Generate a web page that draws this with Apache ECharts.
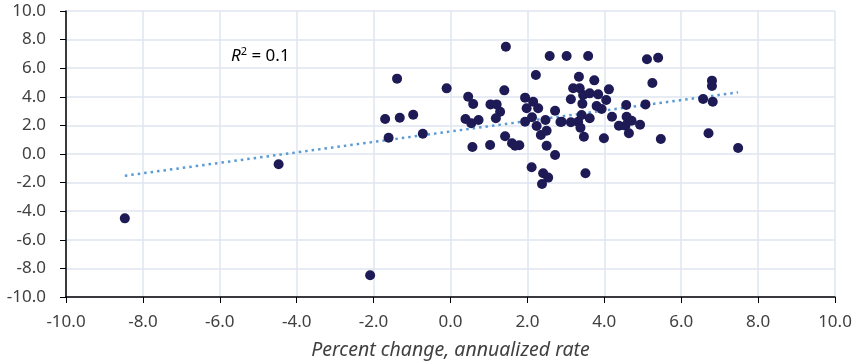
<!DOCTYPE html>
<html>
<head>
<meta charset="utf-8">
<script src="https://cdn.jsdelivr.net/npm/echarts@6/dist/echarts.min.js"></script>
<style>
  html, body { margin: 0; padding: 0; background: #fff; }
  #chart { width: 858px; height: 363px; }
</style>
</head>
<body>
<div id="chart"></div>
<script>
// scatter points
const xVals = [
  -8.47, -4.47, -2.09, -1.39, -1.70, -1.32, -0.97, -1.61, -0.72, -0.10,
  1.44, 0.46, 0.59, 1.40, 1.04, 1.20, 1.29, 1.18, 0.39, 0.54,
  0.73, 0.57, 1.03, 1.42, 1.60, 1.79, 1.68, 2.22, 2.58, 3.02,
  3.58, 1.94, 2.15, 2.28, 1.98, 1.94, 2.12, 2.24, 2.47, 2.35,
  2.50, 2.50, 2.72, 2.72, 2.86, 3.13, 3.19, 3.34, 3.13, 2.11,
  2.41, 2.54, 2.38, 5.11, 5.40, 5.25, 6.80, 6.80, 6.57, 6.82,
  6.71, 7.48, 5.47, 5.07, 4.57, 3.74, 4.12, 3.36, 3.45, 3.62,
  3.84, 3.43, 4.05, 3.80, 3.93, 4.20, 4.58, 4.71, 4.38, 4.55,
  4.93, 4.64, 3.99, 3.47, 3.51, 3.32, 3.38, 3.62, 3.41, 2.89
];
const yVals = [
  -4.50, -0.72, -8.48, 5.27, 2.45, 2.54, 2.75, 1.14, 1.42, 4.59,
  7.50, 4.00, 3.50, 4.45, 3.47, 3.47, 2.96, 2.50, 2.45, 2.15,
  2.38, 0.49, 0.63, 1.24, 0.75, 0.61, 0.58, 5.52, 6.85, 6.85,
  6.85, 3.94, 3.66, 3.20, 3.20, 2.26, 2.57, 1.96, 2.38, 1.33,
  1.63, 0.58, 3.03, -0.07, 2.24, 3.83, 4.60, 5.40, 2.22, -0.93,
  -1.35, -1.65, -2.10, 6.62, 6.73, 4.97, 5.13, 4.76, 3.85, 3.66,
  1.45, 0.42, 1.05, 3.47, 3.43, 5.15, 4.52, 4.60, 4.13, 4.24,
  4.17, 3.52, 3.78, 3.36, 3.15, 2.61, 2.61, 2.33, 1.98, 1.98,
  2.05, 1.45, 1.10, 1.21, -1.35, 2.26, 1.84, 2.50, 2.73, 2.26
];

// linear trendline end points as drawn
const trendX = [-8.47, 7.48];
const trendY = [-1.52, 4.31];

const rSquared = '0.1';
const xAxisTitle = 'Percent change, annualized rate';

const points = xVals.map((x, i) => [x, yVals[i]]);
const trend = trendX.map((x, i) => [x, trendY[i]]);

const chart = echarts.init(document.getElementById('chart'));

const textColor = '#404040';
const labelStyle = {
  color: textColor,
  fontSize: 17,
  fontFamily: 'Noto Sans',
  formatter: v => v.toFixed(1)
};

const option = {
  animation: false,
  grid: { left: 66, right: 23, top: 11, bottom: 66, outerBoundsMode: 'none' },
  xAxis: {
    type: 'value',
    min: -10, max: 10, interval: 2,
    name: xAxisTitle,
    nameLocation: 'middle',
    nameGap: 43,
    nameTextStyle: { color: textColor, fontSize: 19.5, fontStyle: 'italic', fontFamily: 'Noto Sans' },
    axisLine: { onZero: false, lineStyle: { color: '#000', width: 1.5 } },
    axisTick: { show: true, length: 6, lineStyle: { color: '#000' } },
    axisLabel: Object.assign({ margin: 17 }, labelStyle),
    splitLine: { show: true, lineStyle: { color: '#dfe5f0', width: 1.5 } }
  },
  yAxis: {
    type: 'value',
    min: -10, max: 10, interval: 2,
    axisLine: { show: true, onZero: false, lineStyle: { color: '#000', width: 1.5 } },
    axisTick: { show: true, length: 6, lineStyle: { color: '#000' } },
    axisLabel: Object.assign({ margin: 20 }, labelStyle),
    splitLine: { show: true, lineStyle: { color: '#dfe5f0', width: 1.5 } }
  },
  series: [
    {
      type: 'line',
      data: trend,
      symbol: 'none',
      z: 1,
      lineStyle: { color: '#5b9bd5', width: 2.5, type: [2.5, 4] }
    },
    {
      type: 'scatter',
      data: points,
      symbolSize: 10,
      z: 2,
      itemStyle: { color: '#1d1a55', opacity: 1 }
    }
  ],
  graphic: [
    {
      type: 'text',
      left: 231,
      top: 46,
      style: {
        text: '{i|R}{s|2}{n| = ' + rSquared + '}',
        rich: {
          i: { fontStyle: 'italic', fontSize: 17, color: textColor, fontFamily: 'Noto Sans' },
          s: { fontSize: 11, color: textColor, fontFamily: 'Noto Sans', verticalAlign: 'top', padding: [0, 0, 9, 0] },
          n: { fontSize: 17, color: textColor, fontFamily: 'Noto Sans' }
        }
      }
    }
  ]
};

chart.setOption(option);
</script>
</body>
</html>
